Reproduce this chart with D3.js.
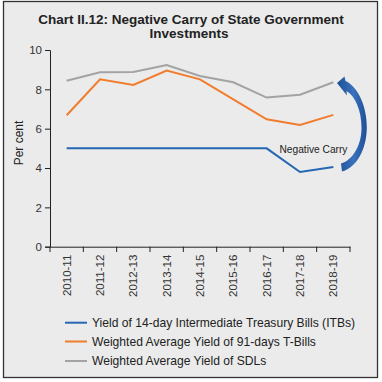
<!DOCTYPE html>
<html><head><meta charset="utf-8">
<script src="https://cdn.jsdelivr.net/npm/d3@7"></script>
<style>
html,body{margin:0;padding:0;background:#fff;}
svg{display:block;font-family:"Liberation Sans",Arial,Helvetica,sans-serif;}
</style></head>
<body>
<svg id="c" width="382" height="382"></svg>
<script>
const categories = ["2010-11","2011-12","2012-13","2013-14","2014-15","2015-16","2016-17","2017-18","2018-19"];
const itbYield = [5.0,5.0,5.0,5.0,5.0,5.0,5.0,3.8,4.05];
const tbillYield = [6.68,8.51,8.22,8.95,8.51,7.49,6.48,6.19,6.7];
const sdlYield = [8.44,8.87,8.88,9.24,8.68,8.36,7.58,7.73,8.36];
const yTicks = [0,2,4,6,8,10];
const seriesNames = ["Yield of 14-day Intermediate Treasury Bills (ITBs)","Weighted Average Yield of 91-days T-Bills","Weighted Average Yield of SDLs"];
const seriesColors = ["#2467b4","#f07c2c","#a3a3a3"];
const seriesData = [itbYield, tbillYield, sdlYield];

const svg = d3.select("#c");
svg.append("rect").attr("x",3.5).attr("y",1.5).attr("width",374).attr("height",376)
  .attr("fill","#ebebeb").attr("stroke","#333").attr("stroke-width",1.3);

// title
const title = svg.append("text").attr("text-anchor","middle").attr("font-weight","bold")
  .attr("font-size",13.5).attr("fill","#222");
title.append("tspan").attr("x",191).attr("y",24).text("Chart II.12: Negative Carry of State Government");
title.append("tspan").attr("x",189).attr("y",38).text("Investments");

const x = d3.scaleBand().domain(categories).range([50,350]);
const y = d3.scaleLinear().domain([0,10]).range([246.7,50]);

// y axis
const ya = svg.append("g").attr("transform","translate(50,0)")
  .call(d3.axisLeft(y).tickValues(yTicks).tickSize(5).tickPadding(3));
ya.selectAll("text").attr("font-size",11.5).attr("fill","#333").attr("font-family","Liberation Sans, Arial, sans-serif");
ya.selectAll("line,path").attr("stroke","#222");

// x axis
const xa = svg.append("g").attr("transform","translate(0,246.7)")
  .call(d3.axisBottom(x).tickSize(0).tickSizeOuter(0));
xa.selectAll("path").attr("stroke","#222");
xa.selectAll(".tick text").attr("font-size",11.5).attr("fill","#333")
  .attr("font-family","Liberation Sans, Arial, sans-serif")
  .attr("transform","rotate(-90)").attr("text-anchor","end")
  .attr("x",-8).attr("y",0).attr("dy","0.35em");
// boundary ticks
const bounds = categories.map(c=>x(c)).concat([x.range()[1]]);
svg.append("g").selectAll("line").data(bounds).join("line")
  .attr("x1",d=>d).attr("x2",d=>d).attr("y1",246.7).attr("y2",252)
  .attr("stroke","#222");

// y label
svg.append("text").attr("transform","translate(23,143) rotate(-90)")
  .attr("text-anchor","middle").attr("font-size",12).attr("fill","#222").text("Per cent");

// lines
const line = d3.line().x((d,i)=>x(categories[i])+x.bandwidth()/2).y(d=>y(d));
seriesData.forEach((s,k)=>{
  svg.append("path").datum(s).attr("d",line).attr("fill","none")
    .attr("stroke",seriesColors[k]).attr("stroke-width",2);
});

// annotation
svg.append("text").attr("x",279.5).attr("y",153).attr("font-size",10.2).attr("fill","#222").text("Negative Carry");

const defs = svg.append("defs");
const g = defs.append("linearGradient").attr("id","ag").attr("x1","0").attr("y1","0").attr("x2","1").attr("y2","0");
g.append("stop").attr("offset","0").attr("stop-color","#1d4f96");
g.append("stop").attr("offset","0.55").attr("stop-color","#3a72bd");
g.append("stop").attr("offset","1").attr("stop-color","#1d4f96");
svg.append("path").attr("fill","url(#ag)")
  .attr("d","M337,83 L344.5,76.5 L345.5,81 C357,86 367,105 366.8,128 C366.5,150 356,168 342,171.5 L341,163.5 C353,160 361.5,145 361.5,128 C361.5,110 355,96 346.5,91 L347,95.5 Z");

// legend
const lg = svg.append("g");
seriesNames.forEach((n,k)=>{
  const yy = [322.7,341.5,361][k];
  lg.append("line").attr("x1",65).attr("x2",87).attr("y1",yy).attr("y2",yy)
    .attr("stroke",seriesColors[k]).attr("stroke-width",2);
  lg.append("text").attr("x",92).attr("y",yy).attr("dy","0.36em").attr("font-size",12.1)
    .attr("fill","#222").text(n);
});
</script>
</body></html>
